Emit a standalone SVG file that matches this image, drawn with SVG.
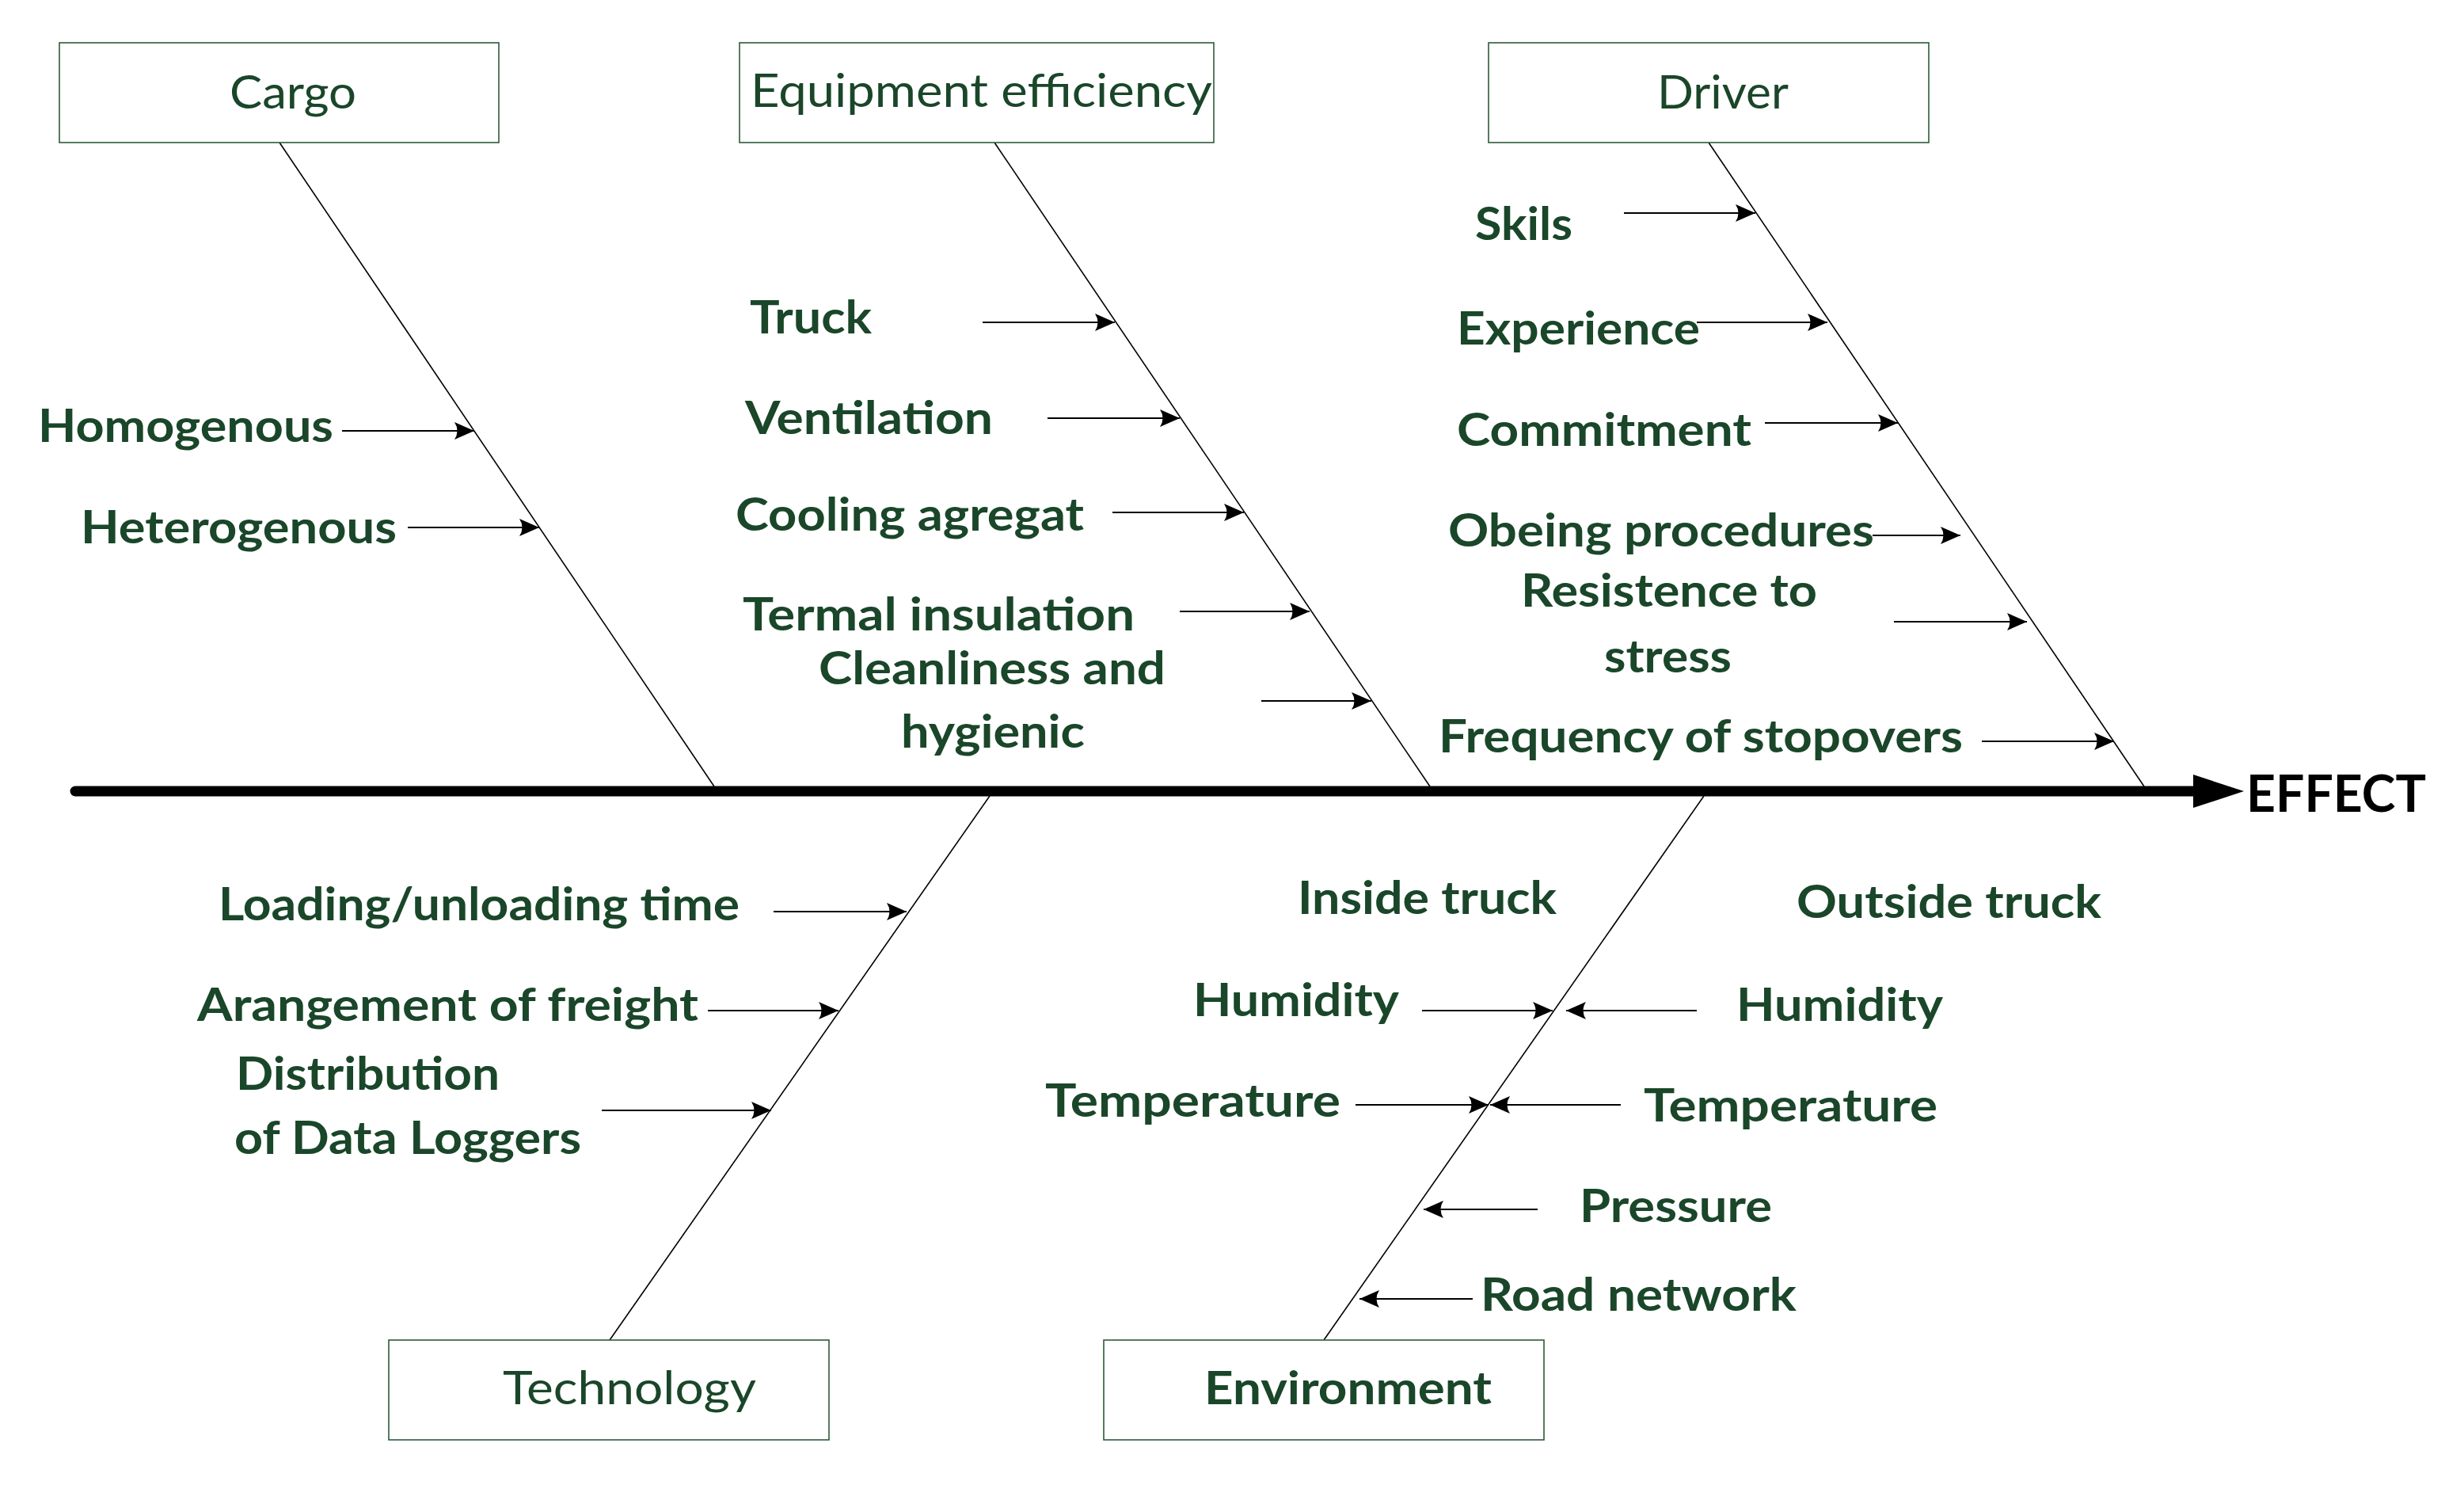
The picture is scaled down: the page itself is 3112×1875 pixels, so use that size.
<svg xmlns="http://www.w3.org/2000/svg" width="3112" height="1875" viewBox="0 0 3112 1875">
<style>
.box{fill:#fff;stroke:#2e5a3a;stroke-width:1.6}
.cat{font-family:Lato,"Liberation Sans",sans-serif;font-size:58px;fill:#1a4629}
.lbl{font-family:Lato,"Liberation Sans",sans-serif;font-size:58px;font-weight:bold;fill:#1a4629}
.bone{stroke:#000;stroke-width:1.6;fill:none}
.arr{stroke:#000;stroke-width:2;fill:none;marker-end:url(#ah)}
</style>
<defs>
<marker id="ah" markerUnits="userSpaceOnUse" viewBox="0 0 25 24" refX="25" refY="12" markerWidth="25" markerHeight="24" orient="auto">
<path d="M0,1 L25,12 L0,23 Q7,12 0,1 z" fill="#000"/>
</marker>
</defs>
<rect width="3112" height="1875" fill="#fff"/>
<g id="connectors">
<line x1="95" y1="999" x2="2776" y2="999" stroke="#000" stroke-width="13" stroke-linecap="round"/>
<polygon points="2770,978 2834,999 2770,1020" fill="#000"/>
<line class="bone" x1="353" y1="180" x2="902" y2="993"/>
<line class="bone" x1="1256" y1="180" x2="1806" y2="993"/>
<line class="bone" x1="2158" y1="180" x2="2708" y2="993"/>
<line class="bone" x1="770" y1="1692" x2="1250" y2="1005"/>
<line class="bone" x1="1672" y1="1692" x2="2152" y2="1005"/>
<line class="arr" x1="432" y1="544" x2="599" y2="544"/>
<line class="arr" x1="515" y1="666" x2="681" y2="666"/>
<line class="arr" x1="1241" y1="407" x2="1408" y2="407"/>
<line class="arr" x1="1323" y1="528" x2="1490" y2="528"/>
<line class="arr" x1="1405" y1="647" x2="1571" y2="647"/>
<line class="arr" x1="1490" y1="772" x2="1654" y2="772"/>
<line class="arr" x1="1593" y1="885" x2="1732" y2="885"/>
<line class="arr" x1="2051" y1="269" x2="2217" y2="269"/>
<line class="arr" x1="2143" y1="407" x2="2308" y2="407"/>
<line class="arr" x1="2229" y1="534" x2="2397" y2="534"/>
<line class="arr" x1="2365" y1="676" x2="2476" y2="676"/>
<line class="arr" x1="2392" y1="785" x2="2560" y2="785"/>
<line class="arr" x1="2503" y1="936" x2="2670" y2="936"/>
<line class="arr" x1="977" y1="1151" x2="1145" y2="1151"/>
<line class="arr" x1="894" y1="1276" x2="1059" y2="1276"/>
<line class="arr" x1="760" y1="1402" x2="974" y2="1402"/>
<line class="arr" x1="1796" y1="1276" x2="1961" y2="1276"/>
<line class="arr" x1="2143" y1="1276" x2="1978" y2="1276"/>
<line class="arr" x1="1712" y1="1395" x2="1880" y2="1395"/>
<line class="arr" x1="2047" y1="1395" x2="1882" y2="1395"/>
<line class="arr" x1="1942" y1="1527" x2="1798" y2="1527"/>
<line class="arr" x1="1860" y1="1640" x2="1717" y2="1640"/>
</g>
<g id="cargo">
<rect class="box" x="75" y="54" width="555" height="126"/>
<text class="cat" x="290" y="137" textLength="160" lengthAdjust="spacingAndGlyphs">Cargo</text>
</g>
<g id="equipment">
<rect class="box" x="934" y="54" width="599" height="126"/>
<text class="cat" x="948" y="135" textLength="583" lengthAdjust="spacingAndGlyphs">Equipment efficiency</text>
</g>
<g id="driver">
<rect class="box" x="1880" y="54" width="556" height="126"/>
<text class="cat" x="2093" y="137" textLength="166" lengthAdjust="spacingAndGlyphs">Driver</text>
</g>
<g id="technology">
<rect class="box" x="491" y="1692" width="556" height="126"/>
<text class="cat" x="635" y="1773" textLength="320" lengthAdjust="spacingAndGlyphs">Technology</text>
</g>
<g id="environment">
<rect class="box" x="1394" y="1692" width="556" height="126"/>
<text class="lbl" x="1521" y="1773" textLength="363" lengthAdjust="spacingAndGlyphs">Environment</text>
</g>
<g id="effect">
<text x="2837" y="1025" font-family="Lato,'Liberation Sans',sans-serif" font-size="65" font-weight="bold" fill="#000" textLength="227" lengthAdjust="spacingAndGlyphs">EFFECT</text>
</g>
<g id="cargo-causes">
<text class="lbl" x="48" y="558" textLength="373" lengthAdjust="spacingAndGlyphs">Homogenous</text>
<text class="lbl" x="102" y="686" textLength="399" lengthAdjust="spacingAndGlyphs">Heterogenous</text>
</g>
<g id="equipment-causes">
<text class="lbl" x="947" y="421" textLength="154" lengthAdjust="spacingAndGlyphs">Truck</text>
<text class="lbl" x="941" y="548" textLength="313" lengthAdjust="spacingAndGlyphs">Ventilation</text>
<text class="lbl" x="929" y="670" textLength="440" lengthAdjust="spacingAndGlyphs">Cooling agregat</text>
<text class="lbl" x="938" y="796" textLength="495" lengthAdjust="spacingAndGlyphs">Termal insulation</text>
<text class="lbl" x="1034" y="864" textLength="438" lengthAdjust="spacingAndGlyphs">Cleanliness and</text>
<text class="lbl" x="1138" y="944" textLength="232" lengthAdjust="spacingAndGlyphs">hygienic</text>
</g>
<g id="driver-causes">
<text class="lbl" x="1863" y="303" textLength="123" lengthAdjust="spacingAndGlyphs">Skils</text>
<text class="lbl" x="1840" y="435" textLength="307" lengthAdjust="spacingAndGlyphs">Experience</text>
<text class="lbl" x="1840" y="563" textLength="372" lengthAdjust="spacingAndGlyphs">Commitment</text>
<text class="lbl" x="1829" y="690" textLength="538" lengthAdjust="spacingAndGlyphs">Obeing procedures</text>
<text class="lbl" x="1921" y="766" textLength="374" lengthAdjust="spacingAndGlyphs">Resistence to</text>
<text class="lbl" x="2026" y="849" textLength="161" lengthAdjust="spacingAndGlyphs">stress</text>
<text class="lbl" x="1817" y="950" textLength="662" lengthAdjust="spacingAndGlyphs">Frequency of stopovers</text>
</g>
<g id="technology-causes">
<text class="lbl" x="276" y="1162" textLength="658" lengthAdjust="spacingAndGlyphs">Loading/unloading time</text>
<text class="lbl" x="249" y="1289" textLength="633" lengthAdjust="spacingAndGlyphs">Arangement of freight</text>
<text class="lbl" x="298" y="1376" textLength="333" lengthAdjust="spacingAndGlyphs">Distribution</text>
<text class="lbl" x="296" y="1457" textLength="438" lengthAdjust="spacingAndGlyphs">of Data Loggers</text>
</g>
<g id="environment-causes">
<text class="lbl" x="1639" y="1154" textLength="327" lengthAdjust="spacingAndGlyphs">Inside truck</text>
<text class="lbl" x="2269" y="1159" textLength="385" lengthAdjust="spacingAndGlyphs">Outside truck</text>
<text class="lbl" x="1507" y="1283" textLength="260" lengthAdjust="spacingAndGlyphs">Humidity</text>
<text class="lbl" x="2193" y="1289" textLength="261" lengthAdjust="spacingAndGlyphs">Humidity</text>
<text class="lbl" x="1320" y="1410" textLength="373" lengthAdjust="spacingAndGlyphs">Temperature</text>
<text class="lbl" x="2076" y="1416" textLength="371" lengthAdjust="spacingAndGlyphs">Temperature</text>
<text class="lbl" x="1995" y="1543" textLength="243" lengthAdjust="spacingAndGlyphs">Pressure</text>
<text class="lbl" x="1870" y="1655" textLength="399" lengthAdjust="spacingAndGlyphs">Road network</text>
</g>
</svg>
